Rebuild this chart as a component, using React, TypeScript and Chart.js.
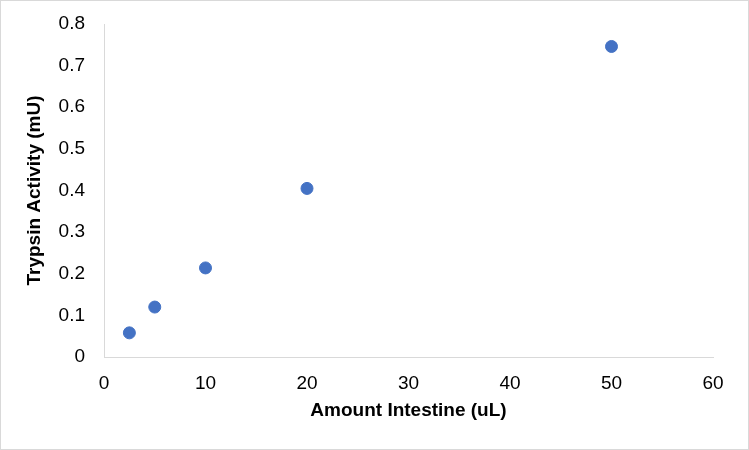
import { useEffect, useRef } from 'react';
import { Chart, registerables } from 'chart.js';

Chart.register(...registerables);

// amount of intestine (uL) vs trypsin activity (mU)
const amountUl = [2.5, 5, 10, 20, 50];
const activityMu = [0.058, 0.12, 0.214, 0.405, 0.746];

const xTitle = 'Amount Intestine (uL)';
const yTitle = 'Trypsin Activity (mU)';

const FONT = "Arial, 'Liberation Sans', sans-serif";

function App() {
  const canvasRef = useRef<HTMLCanvasElement | null>(null);

  useEffect(() => {
    document.body.style.margin = '0';

    const chart = new Chart(canvasRef.current as HTMLCanvasElement, {
      type: 'scatter',
      data: {
        datasets: [
          {
            data: amountUl.map((x, i) => ({ x, y: activityMu[i] })),
            backgroundColor: '#4472C4',
            borderColor: '#4472C4',
            pointRadius: 6,
            pointHoverRadius: 6,
          },
        ],
      },
      options: {
        animation: false,
        responsive: false,
        layout: { padding: { top: 24, right: 36, left: 23, bottom: 20 } },
        plugins: {
          legend: { display: false },
          tooltip: { enabled: false },
        },
        scales: {
          x: {
            type: 'linear',
            min: 0,
            max: 60,
            ticks: {
              stepSize: 10,
              color: '#000',
              font: { family: FONT, size: 19 },
              padding: 15,
            },
            grid: { display: false, drawTicks: false },
            border: { color: '#d9d9d9', width: 1 },
            title: {
              display: true,
              text: xTitle,
              color: '#000',
              font: { family: FONT, size: 19, weight: 'bold' },
              padding: { top: 0, bottom: 8 },
            },
            afterFit: (scale: any) => {
              scale.height = 450 - 357 - 20;
            },
          },
          y: {
            min: 0,
            max: 0.8,
            ticks: {
              stepSize: 0.1,
              color: '#000',
              font: { family: FONT, size: 19 },
              padding: 19,
              callback: (v: any) => String(Math.round(Number(v) * 10) / 10),
            },
            grid: { display: false, drawTicks: false },
            border: { color: '#d9d9d9', width: 1 },
            title: {
              display: true,
              text: yTitle,
              color: '#000',
              font: { family: FONT, size: 19, weight: 'bold' },
              padding: { top: 0, bottom: 0 },
            },
            afterFit: (scale: any) => {
              scale.width = 104 - 23;
              scale.paddingTop = 0;
              scale.paddingBottom = 0;
            },
          },
        },
      },
    });

    return () => chart.destroy();
  }, []);

  return (
    <div style={{ width: 749, height: 450, position: 'relative', background: '#fff' }}>
      <canvas ref={canvasRef} width={749} height={450}></canvas>
      <div
        style={{
          position: 'absolute',
          left: 0,
          top: 0,
          width: 749,
          height: 450,
          boxSizing: 'border-box',
          border: '1px solid #d9d9d9',
          pointerEvents: 'none',
        }}
      ></div>
    </div>
  );
}

export default App;
